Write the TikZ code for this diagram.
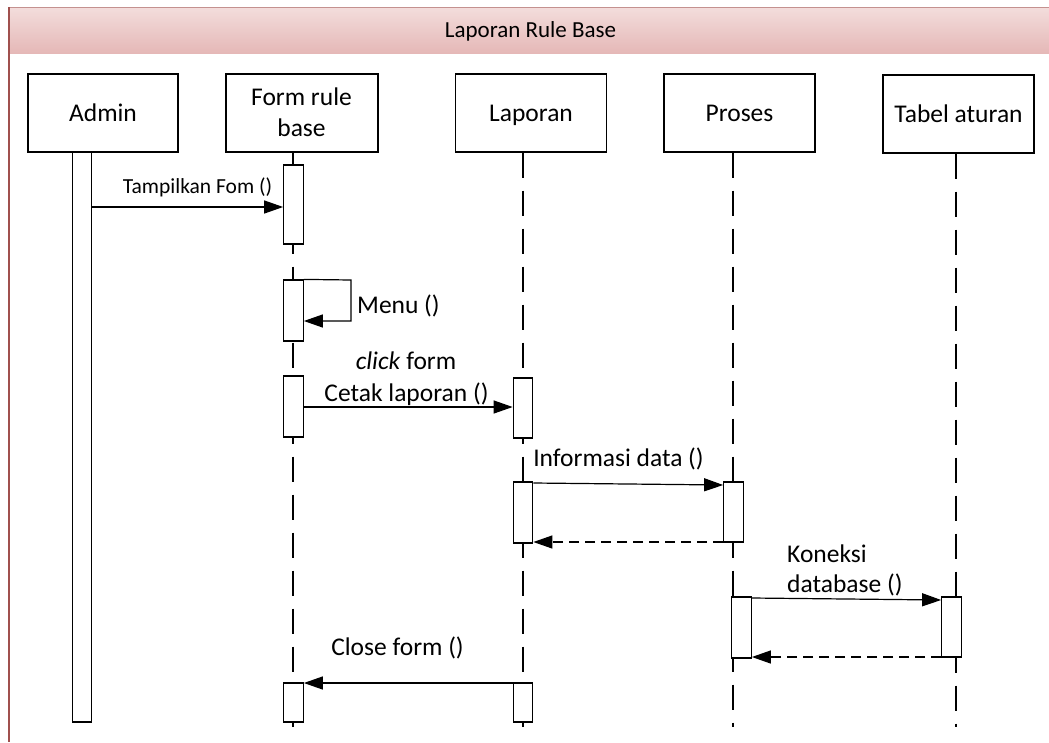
\documentclass[tikz,border=0pt]{standalone}
\usepackage{fontspec}
\setmainfont{Carlito}
\usetikzlibrary{arrows.meta}
\definecolor{hdrtop}{RGB}{243,221,220}
\definecolor{hdrbot}{RGB}{229,184,183}
\definecolor{hdrline}{RGB}{196,145,143}
\definecolor{frameline}{RGB}{160,80,78}
\tikzset{
  lbox/.style={draw=black, line width=1.3pt, fill=white, inner sep=0pt, minimum height=78pt},
  actbar/.style={draw=black, line width=1.2pt, fill=white, inner sep=0pt, minimum width=19.5pt},
  lifeline/.style={line width=1.2pt, dash pattern=on 25pt off 13pt},
  msg/.style={line width=1.2pt, -{Triangle[length=19pt,width=13pt]}},
  ret/.style={line width=1.2pt, dash pattern=on 10pt off 6pt, -{Triangle[length=19pt,width=13pt]}},
  bigtxt/.style={inner sep=0pt, anchor=base, font=\fontsize{25.5}{30}\selectfont},
  smalltxt/.style={inner sep=0pt, anchor=base, font=\fontsize{21.5}{24}\selectfont},
}
\begin{document}
\begin{tikzpicture}[x=1pt,y=-1pt]
\useasboundingbox (0,0) rectangle (1049,742);
% header band
\shade[top color=hdrtop, bottom color=hdrbot] (9,7) rectangle (1049,53);
\draw[hdrline, line width=1pt] (9,7) -- (1049,7);
\draw[frameline, line width=1.2pt] (9,7) -- (9,742);
\node[inner sep=0pt, anchor=base, font=\fontsize{23}{26}\selectfont] (title) at (530.5,37) {Laporan Rule Base};

% lifeline boxes
\node[lbox, minimum width=150pt] (admin) at (103,113) {};
\node[lbox, minimum width=152pt] (form) at (302,113) {};
\node[lbox, minimum width=151pt] (lap) at (531,113) {};
\node[lbox, minimum width=151pt] (pros) at (739.5,113) {};
\node[lbox, minimum width=151pt] (tabel) at (958.5,114) {};
\node[bigtxt] (tadmin) at (103,121) {Admin};
\node[bigtxt] (tform1) at (301.5,105) {Form rule};
\node[bigtxt] (tform2) at (301.5,136) {base};
\node[bigtxt] (tlap) at (531,121) {Laporan};
\node[bigtxt] (tpros) at (739.5,121) {Proses};
\node[bigtxt] (ttabel) at (958.5,122) {Tabel aturan};

% lifelines
\coordinate (fend) at (293,727);
\coordinate (lend) at (523,727);
\coordinate (pend) at (733,727);
\coordinate (tend) at (956,727);
\draw[lifeline] (form.south -| fend) -- (fend);
\draw[lifeline] (lap.south -| lend) -- (lend);
\draw[lifeline] (pros.south -| pend) -- (pend);
\draw[lifeline] (tabel.south -| tend) -- (tend);

% activation bars
\node[actbar, minimum height=570pt] (ab) at (82,437) {};
\node[actbar, minimum height=79pt] (fb1) at (293.5,204.5) {};
\node[actbar, minimum height=61pt] (fb2) at (293.5,310.5) {};
\node[actbar, minimum height=61pt] (fb3) at (293.5,406.5) {};
\node[actbar, minimum height=39pt] (fb4) at (293.5,702.5) {};
\node[actbar, minimum height=60pt] (lb1) at (523,408) {};
\node[actbar, minimum height=61pt] (lb2) at (523,512.5) {};
\node[actbar, minimum height=39pt] (lb3) at (523,702.5) {};
\node[actbar, minimum height=60pt] (pb1) at (733.5,512) {};
\node[actbar, minimum height=61pt] (pb2) at (741.5,627.5) {};
\node[actbar, minimum height=60pt] (tb1) at (951.5,627) {};

% messages
\draw[msg] (ab.east |- 0,207) -- (fb1.west |- 0,207);
\node[smalltxt] (m1) at (197.5,193) {Tampilkan Fom ()};

\coordinate (loopr) at (351,280);
\draw[msg] (fb2.north east) -- (loopr) -- (loopr |- 0,321) -- (fb2.east |- 0,321);
\node[bigtxt, anchor=base west] (m2) at (357,313) {Menu ()};

\draw[msg] (fb3.east |- 0,407) -- (lb1.west |- 0,407);
\node[bigtxt] (m3a) at (406,369) {\textit{click} form};
\node[bigtxt] (m3b) at (406.5,401) {Cetak laporan ()};

\draw[msg] (lb2.east |- 0,483) -- (pb1.west |- 0,485);
\node[bigtxt] (m4) at (618.5,466) {Informasi data ()};
\draw[ret] (pb1.west |- 0,542) -- (lb2.east |- 0,542);

\draw[msg] (pb2.east |- 0,598) -- (tb1.west |- 0,600);
\node[bigtxt, anchor=base west] (m5a) at (787,562) {Koneksi};
\node[bigtxt, anchor=base west] (m5b) at (787,592) {database ()};
\draw[ret] (tb1.west |- 0,657) -- (pb2.east |- 0,657);

\draw[msg] (lb3.west |- 0,683) -- (fb4.east |- 0,683);
\node[bigtxt] (m6) at (397.5,655) {Close form ()};
\end{tikzpicture}
\end{document}
